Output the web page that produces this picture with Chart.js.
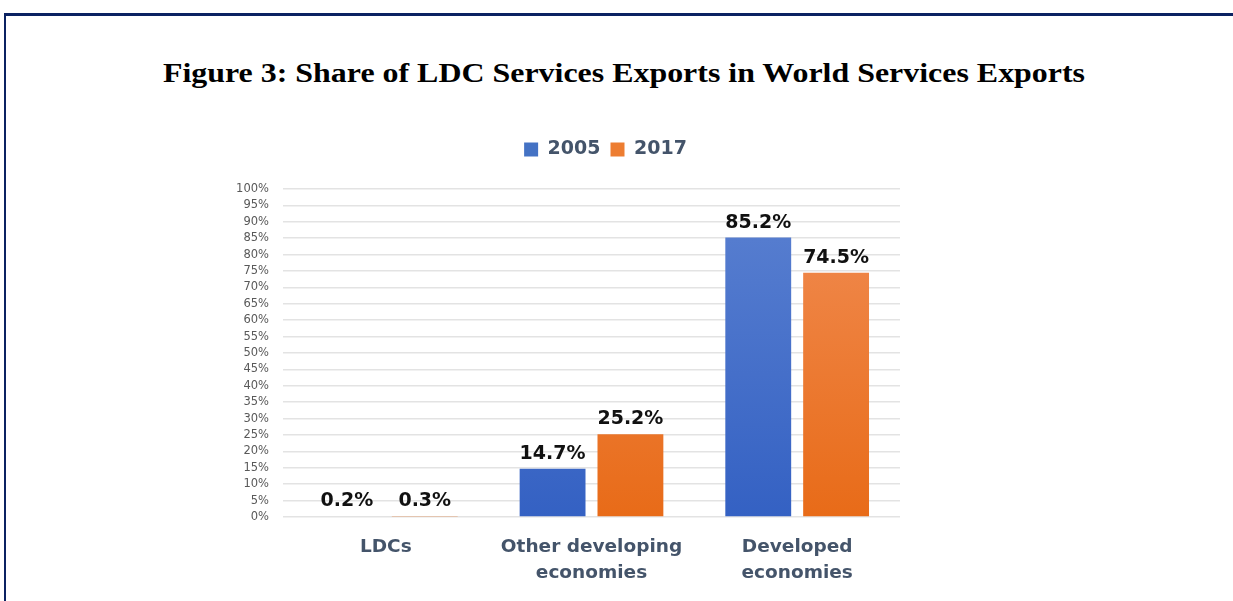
<!DOCTYPE html>
<html>
<head>
<meta charset="utf-8">
<script src="https://cdn.jsdelivr.net/npm/chart.js@4"></script>
<style>
  html, body { margin: 0; padding: 0; background: #ffffff; }
  body { width: 1233px; height: 601px; position: relative; overflow: hidden; }
  .frame-top { position: absolute; left: 4px; top: 13px; width: 1229px; height: 3px; background: #0b2262; }
  .frame-left { position: absolute; left: 4px; top: 13px; width: 2px; height: 588px; background: #0b2262; }
  .title {
    position: absolute; left: 15px; top: 59px; width: 1218px; text-align: center;
    font-family: 'Liberation Serif', 'Times New Roman', serif; font-weight: bold; font-size: 28px;
    line-height: 28px; color: #000; transform: scaleX(1.14); transform-origin: 609px 0;
  }
  #wrap { position: absolute; left: 0; top: 0; width: 1233px; height: 601px; }
</style>
</head>
<body>
<div class="frame-top"></div>
<div class="frame-left"></div>
<div class="title">Figure 3: Share of LDC Services Exports in World Services Exports</div>
<div id="wrap"><canvas id="chart" width="1233" height="601"></canvas></div>
<script>
const categories = ["LDCs", ["Other developing", "economies"], ["Developed", "economies"]];
const seriesNames = ["2005", "2017"];
const values2005 = [0.2, 14.7, 85.2];
const values2017 = [0.3, 25.2, 74.5];
const yTicks = [0, 5, 10, 15, 20, 25, 30, 35, 40, 45, 50, 55, 60, 65, 70, 75, 80, 85, 90, 95, 100];

const FONT = "'DejaVu Sans', sans-serif";

function verticalGradient(top, bottom) {
  return function (ctx) {
    const chart = ctx.chart;
    const area = chart.chartArea;
    if (!area) return bottom;
    const g = chart.ctx.createLinearGradient(0, area.top, 0, area.bottom);
    g.addColorStop(0, top);
    g.addColorStop(1, bottom);
    return g;
  };
}

// Writes each bar's value above it
const valueLabels = {
  id: 'valueLabels',
  afterDatasetsDraw(chart) {
    const ctx = chart.ctx;
    ctx.save();
    ctx.font = "bold 19px " + FONT;
    ctx.fillStyle = "#111111";
    ctx.textAlign = "center";
    ctx.textBaseline = "alphabetic";
    chart.data.datasets.forEach((ds, i) => {
      const meta = chart.getDatasetMeta(i);
      meta.data.forEach((bar, j) => {
        ctx.fillText(ds.data[j].toFixed(1) + "%", bar.x, bar.y - 10);
      });
    });
    ctx.restore();
  }
};

// Extra room under the legend, and a small nudge of the legend to the right
const legendSpacing = {
  id: 'legendSpacing',
  beforeInit(chart) {
    const fit = chart.legend.fit;
    chart.legend.fit = function () {
      fit.call(this);
      this.height += 20;
    };
  },
  afterLayout(chart) {
    chart.legend.left += 14;
    chart.legend.right += 14;
  }
};

new Chart(document.getElementById('chart'), {
  type: 'bar',
  data: {
    labels: categories,
    datasets: [
      { label: seriesNames[0], data: values2005, backgroundColor: verticalGradient('#5b81d1', '#3461c3'), legendColor: '#4472c4' },
      { label: seriesNames[1], data: values2017, backgroundColor: verticalGradient('#f18d54', '#e86b18'), legendColor: '#ed7d31' }
    ]
  },
  options: {
    responsive: false,
    animation: false,
    layout: { padding: { top: 130, left: 213, right: 333, bottom: 0 } },
    datasets: { bar: { categoryPercentage: 0.757, barPercentage: 0.846 } },
    plugins: {
      title: { display: false },
      legend: {
        position: 'top',
        fullSize: false,
        labels: {
          color: '#44546a',
          font: { family: FONT, size: 19, weight: 'bold' },
          boxWidth: 14, boxHeight: 14, padding: 10,
          generateLabels(chart) {
            return chart.data.datasets.map((ds, i) => ({
              text: ds.label, fillStyle: ds.legendColor, strokeStyle: ds.legendColor,
              lineWidth: 0, datasetIndex: i, hidden: false, fontColor: '#44546a'
            }));
          }
        }
      },
      tooltip: { enabled: false }
    },
    scales: {
      x: {
        afterFit(axis) { axis.height = 84; },
        grid: { display: false, drawTicks: false },
        border: { display: false },
        ticks: { color: '#44546a', font: { family: FONT, size: 18.5, weight: 'bold', lineHeight: 1.405 }, padding: 17, maxRotation: 0 }
      },
      y: {
        min: 0, max: 100,
        afterBuildTicks(axis) { axis.ticks = yTicks.map(v => ({ value: v })); },
        afterFit(axis) { axis.width = 70; },
        grid: { color: '#e3e3e3', lineWidth: 1.5, drawTicks: false },
        border: { display: false },
        ticks: { autoSkip: false, color: '#595959', font: { family: FONT, size: 11.5 }, padding: 14, callback: v => v + '%' }
      }
    }
  },
  plugins: [valueLabels, legendSpacing]
});
</script>
</body>
</html>
